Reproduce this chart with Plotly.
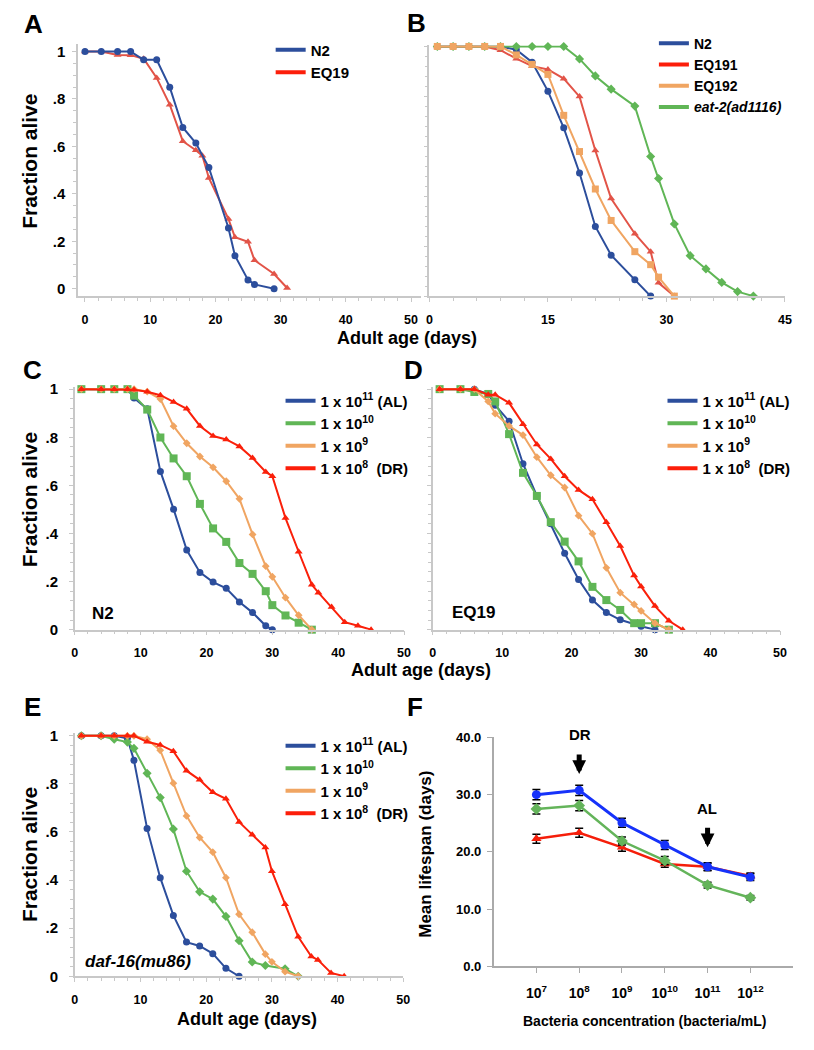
import plotly.graph_objects as go

FONT = "Liberation Sans, Arial, sans-serif"
W, H = 814, 1050

# ---------------- data ----------------
# Panel A
A_days_N2 = [0, 2.5, 5, 7, 9, 11, 13, 15, 17, 19, 22, 23, 25, 26, 29]
A_N2 = [1, 1, 1, 1, 0.965, 0.965, 0.85, 0.68, 0.614, 0.511, 0.256, 0.139, 0.037, 0.018, 0]
A_days_EQ19 = [0, 2.5, 5, 7, 9, 11, 13, 15, 17, 18, 19, 22, 23, 25, 26, 29, 31]
A_EQ19 = [1, 1, 0.986, 0.985, 0.97, 0.889, 0.776, 0.622, 0.584, 0.561, 0.467, 0.294, 0.217, 0.198, 0.12, 0.062, 0.003]

# Panel B
B_days_N2 = [1, 3, 5, 7, 9, 11, 13, 15, 17, 19, 21, 23, 26, 28]
B_N2 = [1, 1, 1, 1, 1, 0.987, 0.937, 0.821, 0.674, 0.493, 0.279, 0.164, 0.066, 0]
B_days_EQ191 = [1, 3, 5, 7, 9, 11, 13, 15, 17, 19, 21, 23, 26, 28, 29, 31]
B_EQ191 = [1, 1, 1, 1, 0.985, 0.951, 0.921, 0.908, 0.871, 0.799, 0.583, 0.391, 0.25, 0.178, 0.053, 0]
B_days_EQ192 = [1, 3, 5, 7, 9, 11, 13, 15, 17, 19, 21, 23, 26, 28, 29, 31]
B_EQ192 = [1, 1, 1, 1, 1, 0.966, 0.928, 0.888, 0.724, 0.579, 0.429, 0.303, 0.178, 0.126, 0.076, 0]
B_days_eat2 = [1, 3, 5, 7, 9, 11, 13, 15, 17, 19, 21, 23, 26, 28, 29, 31, 33, 35, 37, 39, 41]
B_eat2 = [1, 1, 1, 1, 1, 1, 1, 1, 1, 0.95, 0.882, 0.829, 0.761, 0.559, 0.471, 0.289, 0.162, 0.109, 0.055, 0.018, 0]

# Panel C (N2)
C_days_AL = [1, 4, 6, 8, 9, 11, 13, 15, 17, 19, 21, 23, 25, 27, 29, 30]
C_AL = [1, 1, 1, 1, 0.963, 0.918, 0.658, 0.501, 0.331, 0.238, 0.198, 0.172, 0.115, 0.071, 0.016, 0]
C_days_1e10 = [1, 4, 6, 8, 9, 11, 13, 15, 17, 19, 21, 23, 25, 27, 29, 30, 32, 34, 36]
C_1e10 = [1, 1, 1, 1, 0.973, 0.915, 0.799, 0.712, 0.638, 0.523, 0.421, 0.365, 0.277, 0.232, 0.16, 0.102, 0.059, 0.029, 0]
C_days_1e9 = [1, 4, 6, 8, 9, 11, 13, 15, 17, 19, 21, 23, 25, 27, 29, 30, 32, 34, 36]
C_1e9 = [1, 1, 1, 1, 1, 0.99, 0.959, 0.846, 0.775, 0.72, 0.675, 0.617, 0.544, 0.396, 0.264, 0.22, 0.133, 0.06, 0]
C_days_1e8 = [1, 4, 6, 8, 9, 11, 13, 15, 17, 19, 21, 23, 25, 27, 29, 30, 32, 34, 36, 37, 39, 41, 43, 45]
C_1e8 = [1, 1, 1, 1, 0.997, 0.989, 0.975, 0.947, 0.918, 0.847, 0.805, 0.791, 0.762, 0.714, 0.656, 0.638,
         0.464, 0.324, 0.187, 0.154, 0.094, 0.031, 0.016, 0]

# Panel D (EQ19)
D_days_AL = [1, 4, 6, 8, 9, 11, 13, 15, 17, 19, 21, 23, 25, 27, 30, 32]
D_AL = [1, 1, 1, 0.98, 0.933, 0.867, 0.69, 0.556, 0.44, 0.318, 0.209, 0.123, 0.071, 0.041, 0.014, 0]
D_days_1e10 = [1, 4, 6, 8, 9, 11, 13, 15, 17, 19, 21, 23, 25, 27, 29, 30, 32, 34]
D_1e10 = [1, 1, 0.988, 0.98, 0.949, 0.813, 0.652, 0.556, 0.447, 0.366, 0.284, 0.178, 0.123, 0.082, 0.027, 0.027, 0.027, 0]
D_days_1e9 = [1, 4, 6, 8, 9, 11, 13, 15, 17, 19, 21, 23, 25, 27, 29, 30, 32, 34]
D_1e9 = [1, 1, 1, 0.949, 0.898, 0.847, 0.809, 0.717, 0.642, 0.591, 0.474, 0.399, 0.257, 0.154, 0.105, 0.078, 0.027, 0]
D_days_1e8 = [1, 4, 6, 8, 9, 11, 13, 15, 17, 19, 21, 23, 25, 27, 29, 30, 32, 34, 36]
D_1e8 = [1, 1, 1, 0.977, 0.977, 0.943, 0.854, 0.77, 0.71, 0.638, 0.581, 0.542, 0.447, 0.348, 0.225, 0.18, 0.098, 0.037, 0]

# Panel E (daf-16)
E_days_AL = [1, 4, 6, 8, 9, 11, 13, 15, 17, 19, 21, 23, 25]
E_AL = [1, 1, 1, 0.99, 0.898, 0.615, 0.41, 0.253, 0.142, 0.126, 0.094, 0.033, 0]
E_days_1e10 = [1, 4, 6, 8, 9, 11, 13, 15, 17, 19, 21, 23, 25, 27, 29, 32, 34]
E_1e10 = [1, 1, 0.986, 0.974, 0.948, 0.844, 0.743, 0.612, 0.437, 0.351, 0.321, 0.249, 0.148, 0.059, 0.045, 0.031, 0]
E_days_1e9 = [1, 4, 6, 8, 9, 11, 13, 15, 17, 19, 21, 23, 25, 27, 29, 30, 32, 34]
E_1e9 = [1, 1, 1, 1, 1, 0.986, 0.94, 0.803, 0.667, 0.577, 0.516, 0.41, 0.258, 0.183, 0.092, 0.06, 0.019, 0]
E_days_1e8 = [1, 4, 6, 8, 9, 11, 13, 15, 17, 19, 21, 23, 25, 27, 29, 30, 32, 34, 36, 37, 39, 41]
E_1e8 = [1, 1, 1, 1, 1, 0.975, 0.962, 0.936, 0.855, 0.817, 0.765, 0.738, 0.642, 0.589, 0.536, 0.437,
         0.299, 0.164, 0.082, 0.068, 0.014, 0]

# Panel F
F_conc = ["10<sup>7</sup>", "10<sup>8</sup>", "10<sup>9</sup>", "10<sup>10</sup>", "10<sup>11</sup>", "10<sup>12</sup>"]
F_blue = [30.0, 30.75, 25.1, 21.2, 17.4, 15.6]
F_blue_err = [0.9, 0.9, 0.8, 0.8, 0.7, 0.6]
F_green = [27.5, 28.1, 21.9, 18.5, 14.2, 12.0]
F_green_err = [0.9, 0.9, 0.7, 0.7, 0.5, 0.4]
F_red = [22.3, 23.35, 20.8, 17.9, 17.4, 15.8]
F_red_err = [0.8, 0.8, 0.7, 0.6, 0.6, 0.5]

LEG_CONC = ["1 x 10<sup>11</sup> (AL)", "1 x 10<sup>10</sup>", "1 x 10<sup>9</sup>", "1 x 10<sup>8</sup>  (DR)"]

# ---------------- style ----------------
BLUE = 'rgb(44,78,156)'
RED_AB = 'rgb(226,84,72)'
RED = 'rgb(250,32,10)'
ORANGE = 'rgb(240,165,98)'
GREEN = 'rgb(96,182,86)'
LEG_RED = 'rgb(252,30,10)'
F_BLUE = 'rgb(22,50,250)'
F_GREEN = 'rgb(100,180,90)'
F_RED = 'rgb(245,30,10)'
AXC = 'rgb(200,200,200)'


def px(x):
    return x / W


def py(y):
    return 1 - y / H


fig = go.Figure()


def surv(ax, x, y, color, symbol, size=7):
    fig.add_trace(go.Scatter(
        x=x, y=y, mode='lines+markers', xaxis='x' + ax, yaxis='y' + ax,
        line=dict(color=color, width=2),
        marker=dict(symbol=symbol, size=size, color=color),
        showlegend=False, cliponaxis=False, hoverinfo='x+y'))


def leg(ax, name, color, legend):
    fig.add_trace(go.Scatter(
        x=[None], y=[None], mode='lines', xaxis='x' + ax, yaxis='y' + ax,
        line=dict(color=color, width=4), name=name, legend=legend, showlegend=True))


# A
surv('', A_days_EQ19, A_EQ19, RED_AB, 'triangle-up')
surv('', A_days_N2, A_N2, BLUE, 'circle')
leg('', '<b>N2</b>', BLUE, 'legend')
leg('', '<b>EQ19</b>', LEG_RED, 'legend')

# B
surv('2', B_days_N2, B_N2, BLUE, 'circle')
surv('2', B_days_EQ191, B_EQ191, RED_AB, 'triangle-up')
surv('2', B_days_eat2, B_eat2, GREEN, 'diamond')
surv('2', B_days_EQ192, B_EQ192, ORANGE, 'square')
leg('2', '<b>N2</b>', BLUE, 'legend2')
leg('2', '<b>EQ191</b>', LEG_RED, 'legend2')
leg('2', '<b>EQ192</b>', ORANGE, 'legend2')
leg('2', '<b><i>eat-2(ad1116)</i></b>', GREEN, 'legend2')

# C, D, E
panels = [
    ('3', 'legend3', (C_days_AL, C_AL), (C_days_1e10, C_1e10), (C_days_1e9, C_1e9), (C_days_1e8, C_1e8), 'square'),
    ('4', 'legend4', (D_days_AL, D_AL), (D_days_1e10, D_1e10), (D_days_1e9, D_1e9), (D_days_1e8, D_1e8), 'square'),
    ('5', 'legend5', (E_days_AL, E_AL), (E_days_1e10, E_1e10), (E_days_1e9, E_1e9), (E_days_1e8, E_1e8), 'diamond'),
]
for ax, lg, al, g, o, r, gsym in panels:
    surv(ax, al[0], al[1], BLUE, 'circle')
    surv(ax, g[0], g[1], GREEN, gsym, 8 if gsym == 'square' else 7)
    surv(ax, o[0], o[1], ORANGE, 'diamond', 6)
    surv(ax, r[0], r[1], RED, 'triangle-up')
    for name, c in zip(LEG_CONC, [BLUE, GREEN, ORANGE, LEG_RED]):
        leg(ax, '<b>' + name + '</b>', c, lg)

# F
xs = list(range(len(F_conc)))
for vals, err, c, sym in [(F_red, F_red_err, F_RED, 'triangle-up'),
                          (F_green, F_green_err, F_GREEN, 'diamond'),
                          (F_blue, F_blue_err, F_BLUE, 'circle')]:
    fig.add_trace(go.Scatter(
        x=xs, y=vals, mode='lines+markers', xaxis='x6', yaxis='y6',
        line=dict(color=c, width=2.5 if c != F_BLUE else 3),
        marker=dict(symbol=sym, size=9, color=c),
        error_y=dict(type='data', array=err, color='black', thickness=1.5, width=4),
        showlegend=False, cliponaxis=False))

# ---------------- axes ----------------
tf = dict(family=FONT, size=12.5, color='black', weight='bold')


def base_axis(**kw):
    d = dict(showline=True, linecolor=AXC, linewidth=1.5, showgrid=False, zeroline=False,
             ticks='outside', tickcolor=AXC, ticklen=4, tickwidth=1, tickfont=tf, fixedrange=True)
    d.update(kw)
    return d


yt_vals = [0, 0.2, 0.4, 0.6, 0.8, 1]
yt_text = ['0', '.2', '.4', '.6', '.8', '1']
ytf = dict(family=FONT, size=15, color='black', weight='bold')
ymin = dict(ticks='outside', ticklen=3, tickcolor=AXC, tick0=0, dtick=0.04)
XSO = 7

layout = dict(
    width=W, height=H, margin=dict(l=0, r=0, t=0, b=0),
    paper_bgcolor='white', plot_bgcolor='white', showlegend=True,
    font=dict(family=FONT, color='black'),
    # A
    xaxis=base_axis(domain=[px(76), px(423)], range=[-1.06, 51.5], anchor='y',
                    tickvals=[0, 10, 20, 30, 40, 50], ticklabelstandoff=XSO,
                    minor=dict(ticks='outside', ticklen=3, tickcolor=AXC, tick0=0, dtick=2)),
    yaxis=base_axis(domain=[py(293), py(38)], range=[-0.03, 1.03], anchor='x',
                    tickvals=yt_vals, ticktext=yt_text, tickfont=ytf, ticklabelstandoff=4,
                    minor=dict(ticks='outside', ticklen=3, tickcolor=AXC, tick0=0, dtick=0.05)),
    # B
    xaxis2=base_axis(domain=[px(431.7), px(791.7)], range=[0, 45], anchor='y2',
                     tickvals=[0, 15, 30, 45], ticklabelstandoff=XSO,
                     minor=dict(ticks='outside', ticklen=3, tickcolor=AXC, tick0=0, dtick=3)),
    yaxis2=base_axis(domain=[py(293.3), py(39)], range=[0, 1.004], anchor='x2',
                     tickvals=yt_vals, showticklabels=False, minor=ymin),
    # C
    xaxis3=base_axis(domain=[px(72.7), px(406)], range=[0, 50], anchor='y3',
                     tickvals=[0, 10, 20, 30, 40, 50], ticklabelstandoff=XSO,
                     minor=dict(ticks='outside', ticklen=3, tickcolor=AXC, tick0=0, dtick=2)),
    yaxis3=base_axis(domain=[py(631.7), py(385)], range=[0, 1.011], anchor='x3',
                     tickvals=yt_vals, ticktext=yt_text, tickfont=ytf, ticklabelstandoff=8, minor=ymin),
    # D
    xaxis4=base_axis(domain=[px(435), px(786.7)], range=[0, 50], anchor='y4',
                     tickvals=[0, 10, 20, 30, 40, 50], ticklabelstandoff=XSO,
                     minor=dict(ticks='outside', ticklen=3, tickcolor=AXC, tick0=0, dtick=2)),
    yaxis4=base_axis(domain=[py(631.7), py(385)], range=[0, 1.011], anchor='x4',
                     tickvals=yt_vals, showticklabels=False, minor=ymin),
    # E
    xaxis5=base_axis(domain=[px(72.7), px(405.3)], range=[0, 50], anchor='y5',
                     tickvals=[0, 10, 20, 30, 40, 50], ticklabelstandoff=XSO,
                     minor=dict(ticks='outside', ticklen=3, tickcolor=AXC, tick0=0, dtick=2)),
    yaxis5=base_axis(domain=[py(983.3), py(736.7)], range=[0, 1.011], anchor='x5',
                     tickvals=yt_vals, ticktext=yt_text, tickfont=ytf, ticklabelstandoff=8, minor=ymin),
    # F
    xaxis6=base_axis(domain=[px(496.7), px(800)], range=[-1, 6], anchor='y6',
                     tickvals=xs, ticktext=F_conc, linecolor='rgb(170,170,170)', tickcolor='rgb(170,170,170)',
                     ticklen=5, ticklabelstandoff=8,
                     tickfont=dict(family=FONT, size=14, color='black', weight='bold')),
    yaxis6=base_axis(domain=[py(973.3), py(741)], range=[0, 40], anchor='x6',
                     tickvals=[0, 10, 20, 30, 40], tickformat='.1f', linecolor='rgb(170,170,170)',
                     tickcolor='rgb(170,170,170)', ticklen=5, ticklabelstandoff=3,
                     tickfont=dict(family=FONT, size=13, color='black', weight='bold')),
)


def legend_cfg(xpx, ytop, size=15, gap=0):
    return dict(x=px(xpx), y=py(ytop), xanchor='left', yanchor='top', bgcolor='rgba(0,0,0,0)',
                font=dict(family=FONT, size=size, color='black'), itemwidth=30,
                tracegroupgap=gap, itemclick=False, itemdoubleclick=False)


layout['legend'] = legend_cfg(271, 27)
layout['legend2'] = legend_cfg(659, 21, 14)
layout['legend3'] = legend_cfg(281, 383)
layout['legend4'] = legend_cfg(667.7, 383)
layout['legend5'] = legend_cfg(281, 733)

fig.update_layout(**layout)


def ann(text, x, y, size, angle=0, **kw):
    d = dict(text=text, x=px(x), y=py(y), xref='paper', yref='paper', showarrow=False,
             xanchor='center', yanchor='middle', textangle=angle,
             font=dict(family=FONT, size=size, color='black'))
    d.update(kw)
    fig.add_annotation(**d)


# panel letters
for letter, x, y in [('A', 30.5, 17.5), ('B', 419, 16.7), ('C', 30, 368.3), ('D', 416, 368.3),
                     ('E', 30, 710), ('F', 416.7, 710)]:
    ann('<b>' + letter + '</b>', x, y, 26)

# axis titles
ann('<b>Adult age (days)</b>', 409, 336, 18)
ann('<b>Adult age (days)</b>', 423, 672.7, 18)
ann('<b>Adult age (days)</b>', 246.7, 1026.7, 18)
ann('<b>Bacteria concentration (bacteria/mL)</b>', 650, 1028.3, 14)
ann('<b>Fraction alive</b>', 26.7, 156.7, 21, -90)
ann('<b>Fraction alive</b>', 26.7, 500, 21, -90)
ann('<b>Fraction alive</b>', 26.7, 860, 21, -90)
ann('<b>Mean lifespan (days)</b>', 428.3, 860, 17, -90)

# in-panel labels
ann('<b>N2</b>', 101.7, 615.7, 17)
ann('<b>EQ19</b>', 476.7, 614, 17)
ann('<b><i>daf-16(mu86)</i></b>', 136.7, 968.3, 17)
ann('<b>DR</b>', 584, 738.3, 15)
ann('<b>AL</b>', 712.7, 812.7, 15)

# arrows in F
for xi, ytip in [(1, 33.6), (4, 20.8)]:
    fig.add_annotation(x=xi, y=ytip, xref='x6', yref='y6', ax=0, ay=-21, showarrow=True,
                       arrowhead=2, arrowsize=0.55, arrowwidth=5, arrowcolor='black', text='')

fig.write_html("out.html", config={'displayModeBar': False},
               post_script="document.body.style.margin='0px';")
